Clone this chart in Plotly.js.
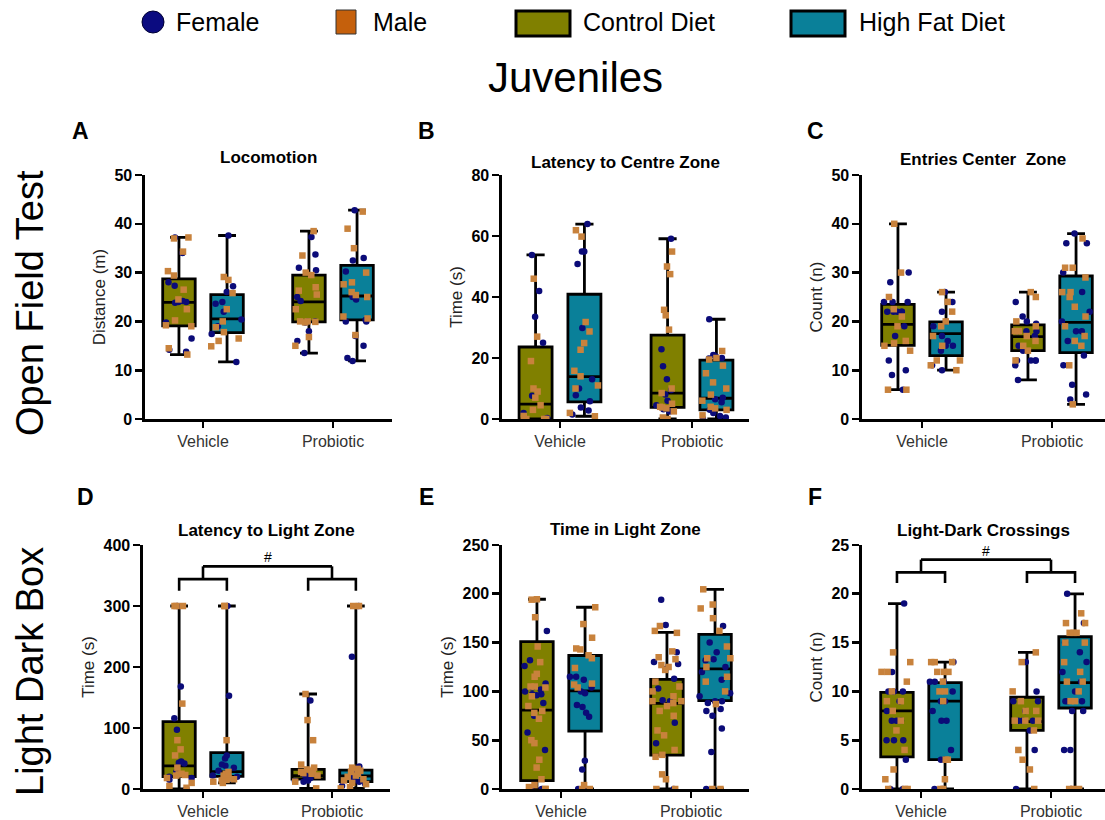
<!DOCTYPE html>
<html>
<head>
<meta charset="utf-8">
<script src="https://cdn.plot.ly/plotly-3.0.1.min.js"></script>
<style>
  html, body { margin: 0; padding: 0; background: #fff; }
  #chart { width: 1105px; height: 820px; }
</style>
</head>
<body>
<div id="chart"></div>
<script>
// Treatments on the x axis, diets drawn side by side, sexes as point markers
const treatments = ['Vehicle', 'Probiotic'];
const diets = ['Control Diet', 'High Fat Diet'];
const sexes = ['Female', 'Male'];

// Group order in every array below:
// Vehicle/Control, Vehicle/High Fat, Probiotic/Control, Probiotic/High Fat
// Box summaries: [min whisker, q1, median, q3, max whisker]

// A - Locomotion, distance (m)
const locomotionBox = [[13.2, 19.1, 23.9, 28.7, 37.2], [11.7, 17.7, 20.5, 25.5, 37.6], [13.5, 19.9, 24.0, 29.5, 38.5], [11.9, 20.3, 25.2, 31.5, 42.8]];
const locomotionFemale = [
  [37.2, 34.0, 28.0, 27.3, 24.2, 24.0, 24.0, 23.8, 19.8, 16.5, 14.2, 13.8],
  [37.6, 27.2, 26.0, 24.0, 23.6, 22.0, 20.4, 19.0, 17.4, 11.7],
  [37.3, 33.7, 31.0, 30.5, 25.0, 24.2, 20.0, 20.0, 19.8, 18.0, 16.0, 13.5],
  [42.8, 33.0, 32.5, 30.2, 25.0, 24.5, 20.3, 20.0, 20.0, 17.0, 15.0, 12.5, 11.9]];
const locomotionMale = [
  [37.2, 37.0, 34.3, 30.3, 29.4, 26.5, 24.5, 22.5, 20.2, 19.2, 19.0, 14.5, 13.2],
  [29.1, 28.5, 25.8, 22.5, 20.0, 18.8, 17.8, 16.5, 16.0, 14.9],
  [38.5, 33.5, 30.0, 29.5, 27.0, 26.3, 25.5, 22.5, 20.0, 20.0, 19.9, 19.8, 16.8, 15.0],
  [42.5, 39.0, 35.0, 30.0, 28.0, 27.6, 26.0, 25.4, 25.0, 21.0, 20.6, 17.2]];

// B - Latency to centre zone, time (s)
const centreLatencyBox = [[0, 0, 4.9, 23.6, 53.8], [0.9, 5.6, 13.9, 40.9, 63.9], [0, 3.8, 8.5, 27.5, 59.1], [0, 3.0, 6.8, 19.3, 32.7]];
const centreLatencyFemale = [
  [53.8, 42, 33.5, 25, 7.6, 2, 0.3, 0, 0],
  [63.9, 54.9, 54.9, 50.8, 29.8, 13, 10, 7.8, 5.8, 3.8, 2.8, 1.5],
  [59.1, 22.9, 17.3, 13.0, 9.5, 8.0, 6.0, 4.5, 3.2, 2.5],
  [32.7, 21.0, 20.5, 20.0, 19.8, 7.0, 6.5, 5.5, 3.0, 2.0, 1.0, 0.5, 0]];
const centreLatencyMale = [
  [46, 27, 19, 10, 9, 7, 4.5, 3, 1, 0, 0, 0],
  [61.9, 59.8, 31.8, 28.7, 24.9, 22.7, 15.8, 14, 11, 10, 2, 0.9],
  [54.9, 50.0, 47.5, 35.8, 34.0, 29.3, 10.0, 8.5, 5.0, 4.0, 3.8, 3.5, 2.5, 0.5, 0],
  [22.3, 20.0, 19.5, 17.5, 15.0, 12.0, 10.0, 8.0, 6.0, 4.0, 3.5, 3.0, 1.2]];

// C - Entries to centre zone, count (n)
const centreEntriesBox = [[6, 15.1, 19.4, 23.5, 40], [10, 13, 17.5, 19.9, 26], [8, 14, 16.9, 19.3, 26], [3, 13.6, 19.8, 29.3, 38]];
const centreEntriesFemale = [
  [30, 28, 24, 24, 24, 22, 22, 22, 22, 22, 19, 17, 12, 10, 9, 6],
  [26, 24, 22, 20, 19, 17, 16, 15, 15, 14, 11, 10],
  [24, 21, 20, 19.5, 18, 18, 18, 17, 15, 14, 12, 12, 12, 12, 11, 8],
  [38, 36, 36, 30, 26, 22, 20, 18, 18, 16, 13, 11, 7, 5, 4]];
const centreEntriesMale = [
  [40, 30, 25, 22.5, 21, 19, 16, 15.5, 15, 14, 6, 6],
  [26, 24, 22, 20, 19, 17, 15, 12, 12, 11, 10],
  [26, 25, 20, 19, 18, 18, 17, 16, 15, 14, 12],
  [37, 31, 31, 29, 26, 26, 25, 23, 21, 19, 17, 16, 15, 11, 3]];

// D - Latency to light zone, time (s)
const lightLatencyBox = [[0, 20.2, 38, 110.3, 300], [10, 20.7, 28.6, 59.5, 300], [1, 16.4, 22, 32.3, 155.7], [1, 12, 21.3, 31, 300]];
const lightLatencyFemale = [
  [300, 168, 116, 97, 45, 43, 42, 28, 20, 18, 15, 0],
  [300, 153, 55, 50, 40, 38, 35, 30, 22, 20],
  [145, 28, 22, 20, 18, 15, 14, 13, 12],
  [300, 217, 37, 30, 25, 20, 15, 12, 8, 5]];
const lightLatencyMale = [
  [300, 300, 300, 140, 80, 65, 55, 35, 25, 24, 23, 22, 18, 10, 5, 2],
  [300, 300, 80, 28, 25, 24, 22, 20, 18, 16, 15, 14, 12, 10],
  [155.7, 113, 80, 40, 35, 32, 30, 28, 26, 25, 22, 12, 1],
  [300, 300, 35, 33, 30, 28, 25, 22, 20, 16, 14, 10, 8, 3, 1]];

// E - Time in light zone, time (s)
const lightTimeBox = [[0, 8.5, 80.8, 151, 194.4], [0, 59.3, 100.6, 136.8, 186.2], [0, 34.8, 87.8, 112.4, 160.5], [0, 90.5, 123, 158.5, 204.6]];
const lightTimeFemale = [
  [162, 132, 126, 108, 104, 102, 100, 97, 97, 96, 88, 75, 58, 40, 0, 0],
  [115, 115, 112, 104, 100, 98, 86, 84, 78, 74, 29, 20, 0, 0],
  [194, 168, 140, 130, 128, 123, 113, 103, 91, 90, 68, 47, 0],
  [167, 150, 140, 133, 132, 125, 120, 112, 98, 95, 90, 90, 88, 82, 80, 75, 62, 38, 0]];
const lightTimeMale = [
  [194.4, 194, 176, 146, 130, 118, 115, 105, 105, 104, 95, 85, 80, 78, 72, 50, 47, 30, 22, 10, 4, 2, 0, 0, 0],
  [186.2, 169, 155, 144, 143, 137, 134, 124, 108, 107, 104, 4, 0, 0],
  [167, 162, 160, 141, 135, 133, 127, 125, 122, 110, 105, 100, 95, 90, 90, 88, 85, 80, 75, 60, 55, 40, 35, 33, 15, 10, 0, 0],
  [204.6, 189, 185, 175, 162, 146, 134, 134, 125, 115, 110, 100, 87, 0, 0]];

// F - Light-dark crossings, count (n)
const crossingsBox = [[0, 3.3, 8, 9.9, 19], [0, 3, 9, 10.9, 13], [0, 6, 6.9, 9.4, 14], [0, 8.3, 10.9, 15.6, 20]];
const crossingsFemale = [
  [19, 12, 10, 10, 10, 9, 8, 7, 7, 7, 5, 5, 5, 3, 0, 0],
  [13, 11, 11, 11, 10, 9, 9, 8, 7, 7, 4, 3, 3, 0, 0],
  [13, 10, 9, 9, 8, 7, 7, 7, 6, 4, 0],
  [20, 17, 15, 14, 13, 12, 11, 10, 9, 9, 9, 8, 8, 4, 4, 0]];
const crossingsMale = [
  [14, 13, 12, 12, 11, 10, 9, 9, 8, 7, 6, 4, 2, 1, 0, 0, 0],
  [13, 13, 13, 12, 12, 12, 11, 10, 10, 9, 3, 3, 1, 0, 0],
  [14, 13, 10, 9, 8, 8, 7, 7, 7, 6, 4, 3, 2, 0],
  [18, 17, 17, 16, 16, 16, 15, 15, 13, 12, 11, 11, 10, 9, 9, 0, 0, 0]];

// ---------------------------------------------------------------------------
// Styling and layout
const W = 1105, H = 820;
const FONT = 'Liberation Sans, Arial, Helvetica, sans-serif';
const DIET_FILL = ['#808000', '#0a8099'];
const SEX_COLOR = ['#0b0b78', '#c8823c'];
const SEX_SYMBOL = ['circle', 'square'];
const BOX_OFFSET = 0.185;   // diet offset around each treatment
const BOX_WIDTH = 0.25;
const groupPos = [0 - BOX_OFFSET, 0 + BOX_OFFSET, 1 - BOX_OFFSET, 1 + BOX_OFFSET];

const px = x => x / W;
const py = y => (H - y) / H;

const panels = [
  { letter: 'A', title: 'Locomotion', ytitle: 'Distance (m)', box: locomotionBox, female: locomotionFemale, male: locomotionMale,
    ymax: 50, dtick: 10, x0: 145, x1: 392, vx: 203, sp: 130, y0: 175, y1: 419, ty: 158, lx: 80, ly: 131 },
  { letter: 'B', title: 'Latency to Centre Zone', ytitle: 'Time (s)', box: centreLatencyBox, female: centreLatencyFemale, male: centreLatencyMale,
    ymax: 80, dtick: 20, x0: 502, x1: 749, vx: 560, sp: 132, y0: 175, y1: 419, ty: 163, lx: 426, ly: 131 },
  { letter: 'C', title: 'Entries Center  Zone', ytitle: 'Count (n)', box: centreEntriesBox, female: centreEntriesFemale, male: centreEntriesMale,
    ymax: 50, dtick: 10, x0: 862, x1: 1105, vx: 922, sp: 130, y0: 175, y1: 419, ty: 160, lx: 815, ly: 131 },
  { letter: 'D', title: 'Latency to Light Zone', ytitle: 'Time (s)', box: lightLatencyBox, female: lightLatencyFemale, male: lightLatencyMale,
    ymax: 400, dtick: 100, x0: 143, x1: 390, vx: 203, sp: 129, y0: 545, y1: 789, ty: 530, lx: 85, ly: 497 },
  { letter: 'E', title: 'Time in Light Zone', ytitle: 'Time (s)', box: lightTimeBox, female: lightTimeFemale, male: lightTimeMale,
    ymax: 250, dtick: 50, x0: 502, x1: 749, vx: 561, sp: 130, y0: 545, y1: 789, ty: 529, lx: 426, ly: 497 },
  { letter: 'F', title: 'Light-Dark Crossings', ytitle: 'Count (n)', box: crossingsBox, female: crossingsFemale, male: crossingsMale,
    ymax: 25, dtick: 5, x0: 862, x1: 1105, vx: 921, sp: 130, y0: 545, y1: 789, ty: 530, lx: 815, ly: 497 }
];

const traces = [];
const layout = {
  width: W, height: H,
  margin: { l: 0, r: 0, t: 0, b: 0 },
  paper_bgcolor: '#fff', plot_bgcolor: 'rgba(0,0,0,0)',
  showlegend: false, boxmode: 'overlay',
  font: { family: FONT, color: '#000' },
  annotations: [], shapes: []
};

panels.forEach((p, i) => {
  const n = i === 0 ? '' : String(i + 1);
  const xa = 'x' + n, ya = 'y' + n;

  layout['xaxis' + n] = {
    domain: [px(p.x0), px(p.x1)],
    range: [(p.x0 - p.vx) / p.sp, (p.x1 - p.vx) / p.sp],
    anchor: ya, tickvals: [0, 1], ticktext: treatments,
    showline: true, linecolor: '#000', linewidth: 2.6, mirror: false,
    ticks: 'outside', ticklen: 6, tickwidth: 2.6, tickcolor: '#000',
    tickfont: { family: FONT, size: 16, color: '#333' },
    showgrid: false, zeroline: false, fixedrange: true
  };
  layout['yaxis' + n] = {
    domain: [py(p.y1), py(p.y0)],
    range: [0, p.ymax], dtick: p.dtick, tick0: 0, anchor: xa,
    showline: true, linecolor: '#000', linewidth: 2.6,
    ticks: 'outside', ticklen: 7, tickwidth: 2.6, tickcolor: '#000',
    tickfont: { family: FONT, size: 16, color: '#000', weight: 'bold' },
    title: { text: p.ytitle, font: { family: FONT, size: 17, color: '#222' }, standoff: 5 },
    showgrid: false, zeroline: false, fixedrange: true
  };

  // Boxes: one trace per diet, from the box summaries
  [0, 1].forEach(d => {
    const idx = [d, d + 2];
    traces.push({
      type: 'box', xaxis: xa, yaxis: ya, orientation: 'v', name: diets[d],
      x: idx.map(k => groupPos[k]),
      lowerfence: idx.map(k => p.box[k][0]),
      q1: idx.map(k => p.box[k][1]),
      median: idx.map(k => p.box[k][2]),
      q3: idx.map(k => p.box[k][3]),
      upperfence: idx.map(k => p.box[k][4]),
      width: BOX_WIDTH, whiskerwidth: 0.55, boxpoints: false,
      fillcolor: DIET_FILL[d], line: { color: '#000', width: 2.8 },
      hoverinfo: 'skip'
    });
  });

  // Individual animals: one trace per sex, spread by the library's jitter
  [p.female, p.male].forEach((groups, s) => {
    const xs = [], ys = [];
    groups.forEach((vals, k) => vals.forEach(v => { xs.push(groupPos[k]); ys.push(v); }));
    traces.push({
      type: 'box', xaxis: xa, yaxis: ya, name: sexes[s],
      x: xs, y: ys, width: BOX_WIDTH,
      boxpoints: 'all', jitter: 1, pointpos: 0, whiskerwidth: 0,
      fillcolor: 'rgba(0,0,0,0)', line: { color: 'rgba(0,0,0,0)', width: 0 },
      marker: { color: SEX_COLOR[s], symbol: SEX_SYMBOL[s], size: 6.5, line: { width: 0 } },
      hoverinfo: 'skip'
    });
  });

  // Panel title and letter
  layout.annotations.push({
    xref: 'paper', yref: 'paper', x: px((p.x0 + p.x1) / 2), y: py(p.ty),
    text: p.title, showarrow: false, xanchor: 'center', yanchor: 'middle',
    font: { family: FONT, size: 17, weight: 'bold', color: '#000' }
  });
  layout.annotations.push({
    xref: 'paper', yref: 'paper', x: px(p.lx), y: py(p.ly),
    text: p.letter, showarrow: false, xanchor: 'center', yanchor: 'middle',
    font: { family: FONT, size: 23, weight: 'bold', color: '#000' }
  });
});

// Significance brackets (main effect of treatment) in panels D and F
function bracket(n, low, high, top, hashY) {
  const xa = 'x' + n, ya = 'y' + n;
  const line = { color: '#000', width: 2.6 };
  [[groupPos[0], groupPos[1], 0], [groupPos[2], groupPos[3], 1]].forEach(([a, b, c]) => {
    layout.shapes.push({ type: 'path', xref: xa, yref: ya, line,
      path: `M ${a} ${low} L ${a} ${high} L ${b} ${high} L ${b} ${low}` });
    layout.shapes.push({ type: 'line', xref: xa, yref: ya, line, x0: c, x1: c, y0: high, y1: top });
  });
  layout.shapes.push({ type: 'line', xref: xa, yref: ya, line, x0: 0, x1: 1, y0: top, y1: top });
  layout.annotations.push({ xref: xa, yref: ya, x: 0.5, y: hashY, text: '#', showarrow: false,
    yanchor: 'middle', font: { family: FONT, size: 14, color: '#000' } });
}
bracket(4, 325, 344, 365, 381);
bracket(6, 21.1, 22.2, 23.5, 24.4);

// Row labels
[['Open Field Test', 303], ['Light Dark Box', 672]].forEach(([t, y]) => {
  layout.annotations.push({ xref: 'paper', yref: 'paper', x: px(30), y: py(y), text: t,
    textangle: -90, showarrow: false, xanchor: 'center', yanchor: 'middle',
    font: { family: FONT, size: 38, color: '#000' } });
});

// Main heading
layout.annotations.push({ xref: 'paper', yref: 'paper', x: px(575), y: py(78), text: 'Juveniles',
  showarrow: false, xanchor: 'center', yanchor: 'middle', font: { family: FONT, size: 42, color: '#000' } });

// Key across the top
layout.shapes.push({ type: 'circle', xref: 'paper', yref: 'paper', x0: px(142), x1: px(164), y0: py(33), y1: py(11),
  fillcolor: '#0b0b80', line: { color: '#000033', width: 1 } });
layout.shapes.push({ type: 'rect', xref: 'paper', yref: 'paper', x0: px(336), x1: px(356), y0: py(34), y1: py(10),
  fillcolor: '#c5600c', line: { color: '#333', width: 1 } });
layout.shapes.push({ type: 'rect', xref: 'paper', yref: 'paper', x0: px(516), x1: px(570), y0: py(36), y1: py(11),
  fillcolor: DIET_FILL[0], line: { color: '#000', width: 3 } });
layout.shapes.push({ type: 'rect', xref: 'paper', yref: 'paper', x0: px(791), x1: px(845), y0: py(36), y1: py(11),
  fillcolor: DIET_FILL[1], line: { color: '#000', width: 3 } });
[[sexes[0], 174], [sexes[1], 371], [diets[0], 581], [diets[1], 857]].forEach(([t, x]) => {
  layout.annotations.push({ xref: 'paper', yref: 'paper', x: px(x), y: py(22), text: t,
    showarrow: false, xanchor: 'left', yanchor: 'middle', font: { family: FONT, size: 25, color: '#000' } });
});

Plotly.newPlot('chart', traces, layout, { staticPlot: true, displayModeBar: false });
</script>
</body>
</html>
